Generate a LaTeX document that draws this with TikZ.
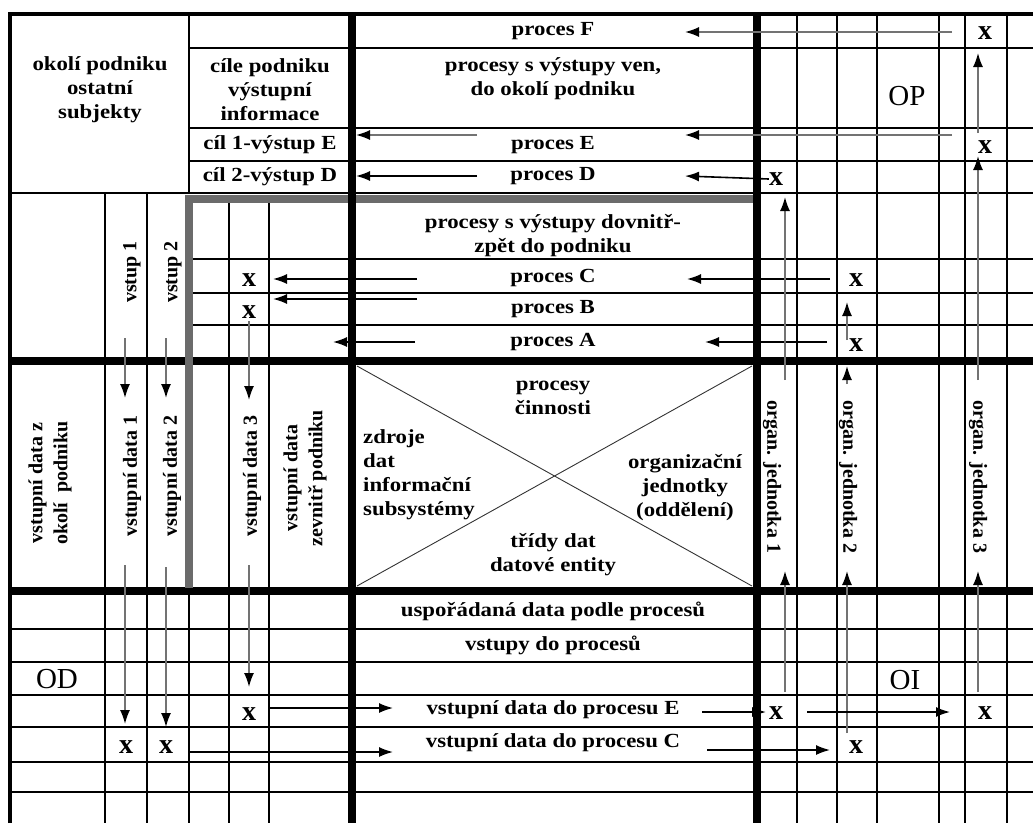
\documentclass[tikz,border=0pt]{standalone}
\usepackage{fontspec}
\setmainfont{Liberation Serif}
\newfontfamily\widefont[FakeStretch=1.14]{Liberation Serif}
\usetikzlibrary{arrows.meta}

\tikzset{
  lbl/.style={font=\widefont\bfseries\fontsize{20}{24}\selectfont, align=center, inner sep=0pt},
  vlbl/.style={font=\bfseries\fontsize{20}{25}\selectfont, align=center, inner sep=0pt},
  xmk/.style={font=\bfseries\fontsize{28}{28}\selectfont, inner sep=0pt},
  bigl/.style={font=\fontsize{29}{29}\selectfont, inner sep=0pt},
  arr/.style={-{Latex[length=14pt,width=10pt,color=black]}, line width=1.6pt},
  garr/.style={arr, black!55},
  gline/.style={line width=1.3pt},
  thk/.style={line width=8pt},
}

\begin{document}
\begin{tikzpicture}[x=1pt,y=-1pt]
  \useasboundingbox (0,0) rectangle (1033,823);

  % thin columns
  \foreach \x in {797,837,877,939,965,1007}
    \draw[gline] (\x,12) -- (\x,823);
  \foreach \x in {105,147}
    \draw[gline] (\x,193) -- (\x,823);
  \foreach \x in {229,269}
    \draw[gline] (\x,199) -- (\x,823);
  \draw[gline] (189,12) -- (189,193);
  \draw[gline] (189,590) -- (189,823);
  % thin rows
  \foreach \y in {48,128,161,259,293,325}
    \draw[gline] (189,\y) -- (1033,\y);
  \foreach \y in {193,629,662,695,727,762,792}
    \draw[gline] (10,\y) -- (1033,\y);
  % frame and thick lines
  \draw[line width=3.5pt] (10,823) -- (10,14) -- (1033,14);
  \draw[thk] (10,361) -- (1033,361);
  \draw[thk] (10,591) -- (1033,591);
  \draw[line width=7.5pt, black!58] (189,588) -- (189,199) -- (756,199);
  \draw[thk] (352,12) -- (352,823);
  \draw[thk] (757,12) -- (757,823);
  \draw[line width=0.9pt, black!80] (357,366) -- (752,586) (357,586) -- (752,366);

  % texts, upper part
  \node[lbl] (okoli) at (100,90) {okolí podniku\\ostatní\\subjekty};
  \node[lbl] (cile) at (270,90) {cíle podniku\\výstupní\\informace};
  \node[lbl] (cil1) at (270,145) {cíl 1-výstup E};
  \node[lbl] (cil2) at (270,177) {cíl 2-výstup D};
  \node[lbl] (pF) at (553,31) {proces F};
  \node[lbl] (pven) at (553,79) {procesy s výstupy ven,\\do okolí podniku};
  \node[lbl] (pE) at (553,145) {proces E};
  \node[lbl] (pD) at (553,176) {proces D};
  \node[lbl] (pdov) at (553,236) {procesy s výstupy dovnitř-\\zpět do podniku};
  \node[lbl] (pC) at (553,278) {proces C};
  \node[lbl] (pB) at (553,309) {proces B};
  \node[lbl] (pA) at (553,342) {proces A};
  \node[bigl] (OP) at (907,96) {OP};

  % texts, middle part
  \node[lbl] (cin) at (553,398) {procesy\\činnosti};
  \node[lbl, align=left, anchor=west] (zdr) at (363,475) {zdroje\\dat\\informační\\subsystémy};
  \node[lbl] (org) at (685,488) {organizační\\jednotky\\(oddělení)};
  \node[lbl] (tri) at (553,555) {třídy dat\\datové entity};
  \node[vlbl, rotate=90] (vst1) at (132,272) {vstup 1};
  \node[vlbl, rotate=90] (vst2) at (173,272) {vstup 2};
  \node[vlbl, rotate=90] (vdz) at (50,483) {vstupní data z\\okolí~ podniku};
  \node[vlbl, rotate=90] (vd1) at (132,476) {vstupní data 1};
  \node[vlbl, rotate=90] (vd2) at (172,476) {vstupní data 2};
  \node[vlbl, rotate=90] (vd3) at (252,476) {vstupní data 3};
  \node[vlbl, rotate=90] (vdv) at (305,478) {vstupní data\\zevnitř podniku};
  \node[vlbl, rotate=-90] (oj1) at (772,477) {organ. jednotka 1};
  \node[vlbl, rotate=-90] (oj2) at (848,477) {organ. jednotka 2};
  \node[vlbl, rotate=-90] (oj3) at (978,477) {organ. jednotka 3};

  % texts, lower part
  \node[lbl] (usp) at (553,611) {uspořádaná data podle procesů};
  \node[lbl] (vpr) at (553,645) {vstupy do procesů};
  \node[lbl] (vdE) at (553,710) {vstupní data do procesu E};
  \node[lbl] (vdC) at (553,743) {vstupní data do procesu C};
  \node[bigl] (OD) at (57,679) {OD};
  \node[bigl] (OI) at (905,680) {OI};

  % x marks
  \foreach \n/\x/\y in {xF/985/33, xE/985/147, xD/776/179, xCr/856/280, xCl/249/280,
      xB/249/312, xA/856/345, x1/126/747, x2/166/747, x3/249/714, xo1/776/713,
      xo2/856/747, xo3/985/713}
    \node[xmk] (\n) at (\x,\y) {x};

  % arrow ends
  \foreach \n/\x/\y in {aF/952/32, bF/685/32, aE/952/135, bE/685/135, cE/477/135, dE/356/135,
      bD/685/176, cD/477/176, dD/356/176, aC/830/279, bC/687/279, cC/417/279, dC/273/279,
      cB/417/299, dB/273/299, aA/827/342, bA/705/342, cA/415/342, dA/333/342}
    \coordinate (\n) at (\x,\y);
  \foreach \n/\x/\y in {u1/978/133, v1/978/53, u2/978/380, v2/978/156, u3/978/692, v3/978/571,
      u4/785/380, v4/785/197, u5/785/692, v5/785/571, u6/847/733, v6/847/571,
      u7/847/384, v7/847/366, u8/847/340, v8/847/302}
    \coordinate (\n) at (\x,\y);
  \foreach \n/\x/\y in {s1/125/338, t1/125/398, s2/166/338, t2/166/398, s3/249/321, t3/249/400,
      s4/125/565, t4/125/724, s5/166/567, t5/166/727, s6/249/565, t6/249/687}
    \coordinate (\n) at (\x,\y);
  \foreach \n/\x/\y in {r1/269/708, q1/393/708, r2/702/712, q2/766/712, r3/807/712, q3/950/712,
      r4/189/752, q4/393/752, r5/707/750, q5/830/750}
    \coordinate (\n) at (\x,\y);

  % arrows to the left
  \draw[garr] (aF) -- (bF);
  \draw[garr] (aE) -- (bE);
  \draw[garr] (cE) -- (dE);
  \draw[arr] (xD.west) -- (bD);
  \draw[arr] (cD) -- (dD);
  \draw[arr] (aC) -- (bC);
  \draw[arr] (cC) -- (dC);
  \draw[arr] (cB) -- (dB);
  \draw[arr] (aA) -- (bA);
  \draw[arr] (cA) -- (dA);
  % arrows up
  \foreach \a/\b in {u1/v1, u2/v2, u3/v3, u4/v4, u5/v5, u6/v6, u7/v7, u8/v8}
    \draw[garr] (\a) -- (\b);
  % arrows down
  \foreach \a/\b in {s1/t1, s2/t2, s3/t3, s4/t4, s5/t5, s6/t6}
    \draw[garr] (\a) -- (\b);
  % arrows to the right
  \foreach \a/\b in {r1/q1, r2/q2, r3/q3, r4/q4, r5/q5}
    \draw[arr] (\a) -- (\b);
\end{tikzpicture}
\end{document}
